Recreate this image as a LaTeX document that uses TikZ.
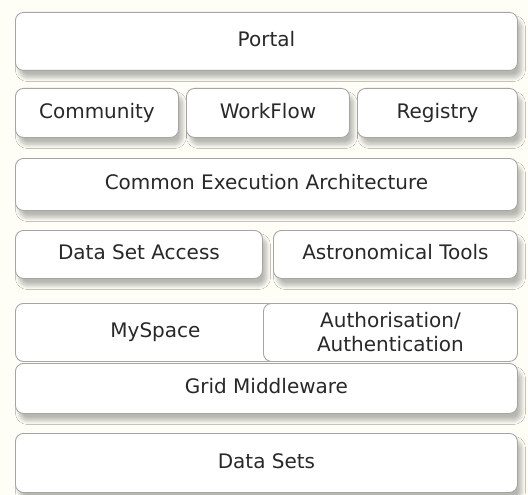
\documentclass[tikz,border=0pt]{standalone}
\usepackage{fontspec}
\setmainfont{DejaVu Sans}
\usetikzlibrary{shadows.blur}
\definecolor{bg}{RGB}{254,254,247}
\definecolor{edge}{RGB}{165,165,165}
\definecolor{txt}{RGB}{40,40,40}
\tikzset{
  flat/.style={draw=edge, line width=0.9pt, fill=white, rounded corners=8pt,
    anchor=north west, inner sep=0pt, align=center, text=txt,
    font=\fontsize{20}{24}\selectfont, text height=14.5pt, text depth=4pt},
  layer/.style={flat,
    blur shadow={shadow xshift=4pt, shadow yshift=-7pt, shadow opacity=28,
      shadow blur steps=8, shadow blur radius=4pt}}
}
\begin{document}
\begin{tikzpicture}[x=1pt,y=-1pt]
\fill[bg] (0,0) rectangle (528,495);
\useasboundingbox (0,0) rectangle (528,495);
\node[layer, minimum width=502pt, minimum height=58pt] (portal) at (15,12) {Portal};
\node[layer, minimum width=163pt, minimum height=49pt] (community) at (15,88) {Community};
\node[layer, minimum width=163pt, minimum height=49pt] (workflow) at (186,88) {WorkFlow};
\node[layer, minimum width=160pt, minimum height=49pt] (registry) at (357,88) {Registry};
\node[layer, minimum width=502pt, minimum height=52pt] (cea) at (15,158) {Common Execution Architecture};
\node[layer, minimum width=247pt, minimum height=48pt] (dsa) at (15,230) {Data Set Access};
\node[layer, minimum width=244pt, minimum height=48pt] (astro) at (273,230) {Astronomical Tools};
\node[layer, minimum width=502pt, minimum height=50pt] (grid) at (15,363) {Grid Middleware};
\node[flat, minimum width=280pt, minimum height=58pt, text width=248pt] (myspace) at (15,303) {MySpace};
\node[flat, minimum width=254pt, minimum height=58pt, text width=250pt, text height=, text depth=] (auth) at (263,303) {Authorisation/\\Authentication};
\node[layer, minimum width=502pt, minimum height=59pt] (datasets) at (15,433) {Data Sets};
\end{tikzpicture}
\end{document}
